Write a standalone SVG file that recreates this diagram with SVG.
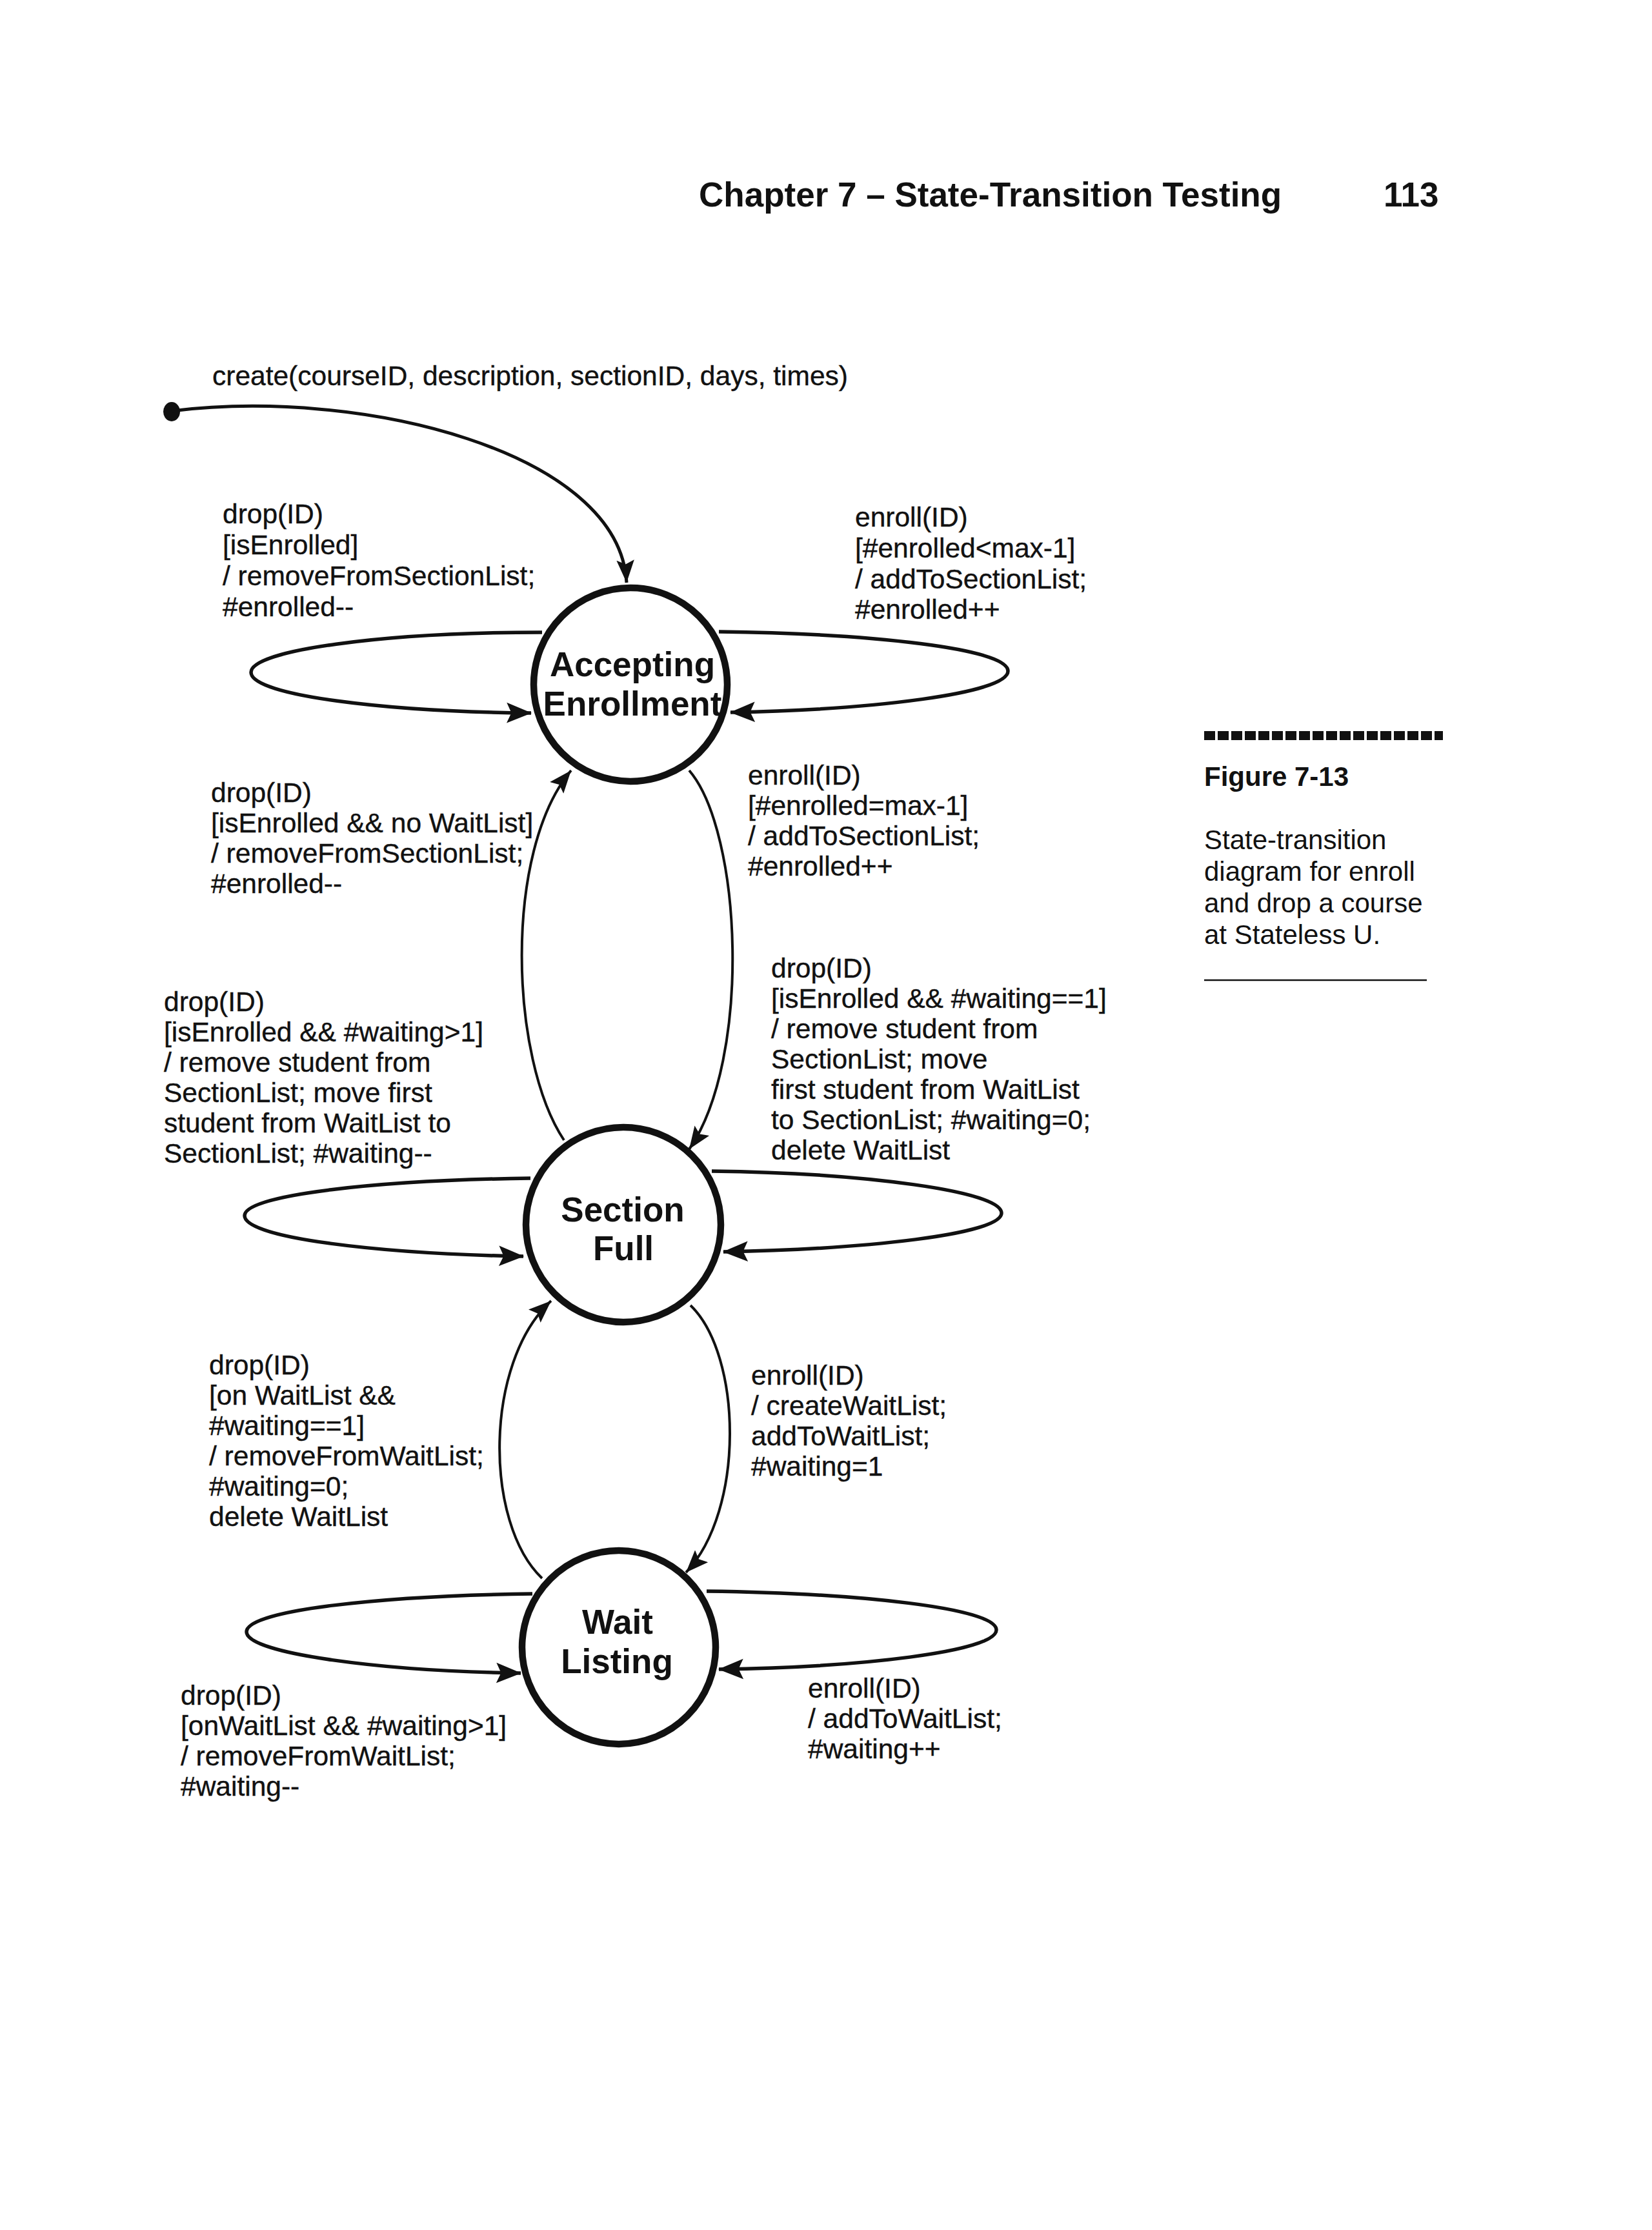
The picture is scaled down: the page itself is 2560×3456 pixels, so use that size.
<svg xmlns="http://www.w3.org/2000/svg" width="2560" height="3456" viewBox="0 0 2560 3456">
<style>
.lbl{font-family:"Liberation Sans",Arial,sans-serif;font-size:42.5px;fill:#111;stroke:#111;stroke-width:0.4}
.st{font-family:"Liberation Sans",Arial,sans-serif;font-size:53px;font-weight:bold;fill:#111;text-anchor:middle}
.hdr{font-family:"Liberation Sans",Arial,sans-serif;font-size:53px;font-weight:bold;fill:#111}
.cap{font-family:"Liberation Sans",Arial,sans-serif;font-size:42px;fill:#111}
.state{fill:#fff;stroke:#111;stroke-width:10.5}
.loop{fill:none;stroke:#111;stroke-width:5.5;marker-end:url(#ah)}
.arc{fill:none;stroke:#111;stroke-width:4;marker-end:url(#ah2)}
</style>
<defs>
<marker id="ah" markerUnits="userSpaceOnUse" markerWidth="40" markerHeight="34" viewBox="0 0 38 32" refX="36" refY="16" orient="auto">
<path d="M0,1 L37,16 L0,31 L7,16 z" fill="#111"/>
</marker>
<marker id="ah2" markerUnits="userSpaceOnUse" markerWidth="36" markerHeight="30" viewBox="0 0 34 28" refX="33" refY="14" orient="auto">
<path d="M0,1 L33,14 L0,27 L6,14 z" fill="#111"/>
</marker>
</defs>
<rect width="2560" height="3456" fill="#fff"/>

<g id="header">
<text class="hdr" x="1083" y="320">Chapter 7 – State-Transition Testing</text>
<text class="hdr" x="2144" y="320">113</text>
</g>

<g id="caption">
<line x1="1866" y1="1140" x2="2236" y2="1140" stroke="#111" stroke-width="14" stroke-dasharray="17 4"/>
<text class="cap" x="1866" y="1218" font-weight="bold">Figure 7-13</text>
<text class="cap" x="1866" y="1316">State-transition</text>
<text class="cap" x="1866" y="1365">diagram for enroll</text>
<text class="cap" x="1866" y="1414">and drop a course</text>
<text class="cap" x="1866" y="1463">at Stateless U.</text>
<line x1="1866" y1="1519" x2="2211" y2="1519" stroke="#111" stroke-width="2.5"/>
</g>

<g id="connectors">
<ellipse id="initial" cx="266" cy="638" rx="13" ry="15" fill="#111"/>
<path d="M 266 637 C 560 600, 960 700, 971 903" fill="none" stroke="#111" stroke-width="5" marker-end="url(#ah2)"/>
<path class="loop" d="M 840 980 C 591 980, 389 1008, 389 1042 C 389 1078, 600 1103, 823 1105"/>
<path class="loop" d="M 1114 979 C 1350 982, 1562 1005, 1562 1040 C 1562 1075, 1350 1100, 1132 1104"/>
<path class="arc" d="M 1068 1194 C 1150 1290, 1165 1640, 1068 1781"/>
<path class="arc" d="M 874 1767 C 790 1640, 780 1320, 885 1194"/>
<path class="loop" d="M 822 1826 C 590 1829, 379 1851, 379 1884 C 379 1919, 590 1943, 811 1947"/>
<path class="loop" d="M 1103 1815 C 1340 1818, 1552 1846, 1552 1880 C 1552 1913, 1340 1936, 1121 1940"/>
<path class="arc" d="M 1070 2023 C 1150 2100, 1155 2340, 1063 2437"/>
<path class="arc" d="M 840 2446 C 750 2360, 750 2112, 854 2016"/>
<path class="loop" d="M 825 2470 C 595 2473, 382 2495, 382 2529 C 382 2563, 595 2590, 807 2593"/>
<path class="loop" d="M 1095 2466 C 1330 2469, 1544 2492, 1544 2526 C 1544 2560, 1330 2584, 1114 2587"/>
</g>

<g id="node-accepting-enrollment">
<circle class="state" cx="977" cy="1061" r="150"/>
<text class="st" x="980" y="1048">Accepting</text>
<text class="st" x="980" y="1109">Enrollment</text>
</g>
<g id="node-section-full">
<circle class="state" cx="966" cy="1898" r="151"/>
<text class="st" x="965" y="1893">Section</text>
<text class="st" x="966" y="1953">Full</text>
</g>
<g id="node-wait-listing">
<circle class="state" cx="959" cy="2553" r="150"/>
<text class="st" x="957" y="2532">Wait</text>
<text class="st" x="956" y="2593">Listing</text>
</g>

<g id="labels">
<text class="lbl" x="329" y="597">create(courseID, description, sectionID, days, times)</text>

<text class="lbl" x="345" y="811">drop(ID)</text>
<text class="lbl" x="345" y="859">[isEnrolled]</text>
<text class="lbl" x="345" y="907">/ removeFromSectionList;</text>
<text class="lbl" x="345" y="955">#enrolled--</text>

<text class="lbl" x="1325" y="816">enroll(ID)</text>
<text class="lbl" x="1325" y="864">[#enrolled&lt;max-1]</text>
<text class="lbl" x="1325" y="912">/ addToSectionList;</text>
<text class="lbl" x="1325" y="959">#enrolled++</text>

<text class="lbl" x="1159" y="1216">enroll(ID)</text>
<text class="lbl" x="1159" y="1263">[#enrolled=max-1]</text>
<text class="lbl" x="1159" y="1310">/ addToSectionList;</text>
<text class="lbl" x="1159" y="1357">#enrolled++</text>

<text class="lbl" x="327" y="1243">drop(ID)</text>
<text class="lbl" x="327" y="1290">[isEnrolled &amp;&amp; no WaitList]</text>
<text class="lbl" x="327" y="1337">/ removeFromSectionList;</text>
<text class="lbl" x="327" y="1384">#enrolled--</text>

<text class="lbl" x="254" y="1567">drop(ID)</text>
<text class="lbl" x="254" y="1614">[isEnrolled &amp;&amp; #waiting&gt;1]</text>
<text class="lbl" x="254" y="1661">/ remove student from</text>
<text class="lbl" x="254" y="1708">SectionList; move first</text>
<text class="lbl" x="254" y="1755">student from WaitList to</text>
<text class="lbl" x="254" y="1802">SectionList; #waiting--</text>

<text class="lbl" x="1195" y="1515">drop(ID)</text>
<text class="lbl" x="1195" y="1562">[isEnrolled &amp;&amp; #waiting==1]</text>
<text class="lbl" x="1195" y="1609">/ remove student from</text>
<text class="lbl" x="1195" y="1656">SectionList; move</text>
<text class="lbl" x="1195" y="1703">first student from WaitList</text>
<text class="lbl" x="1195" y="1750">to SectionList; #waiting=0;</text>
<text class="lbl" x="1195" y="1797">delete WaitList</text>

<text class="lbl" x="324" y="2130">drop(ID)</text>
<text class="lbl" x="324" y="2177">[on WaitList &amp;&amp;</text>
<text class="lbl" x="324" y="2224">#waiting==1]</text>
<text class="lbl" x="324" y="2271">/ removeFromWaitList;</text>
<text class="lbl" x="324" y="2318">#waiting=0;</text>
<text class="lbl" x="324" y="2365">delete WaitList</text>

<text class="lbl" x="1164" y="2146">enroll(ID)</text>
<text class="lbl" x="1164" y="2193">/ createWaitList;</text>
<text class="lbl" x="1164" y="2240">addToWaitList;</text>
<text class="lbl" x="1164" y="2287">#waiting=1</text>

<text class="lbl" x="280" y="2642">drop(ID)</text>
<text class="lbl" x="280" y="2689">[onWaitList &amp;&amp; #waiting&gt;1]</text>
<text class="lbl" x="280" y="2736">/ removeFromWaitList;</text>
<text class="lbl" x="280" y="2783">#waiting--</text>

<text class="lbl" x="1252" y="2631">enroll(ID)</text>
<text class="lbl" x="1252" y="2678">/ addToWaitList;</text>
<text class="lbl" x="1252" y="2725">#waiting++</text>
</g>
</svg>
